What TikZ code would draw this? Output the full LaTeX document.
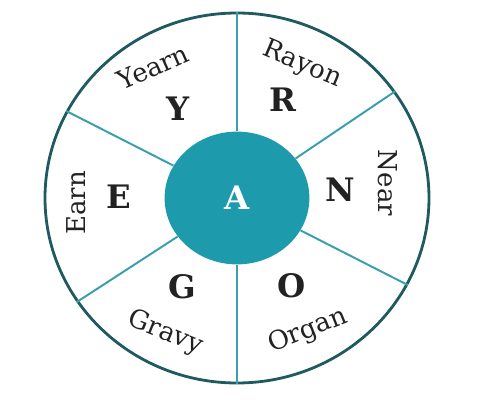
\documentclass[tikz,border=0pt]{standalone}
\usepackage{fontspec}
\setmainfont{DejaVu Serif}
\usetikzlibrary{shapes.geometric}
\usepackage{xcolor}
\definecolor{hubteal}{HTML}{1E9AAD}
\definecolor{rimteal}{HTML}{1F5A60}
\definecolor{spoketeal}{HTML}{3A9FAB}
\definecolor{inkgray}{HTML}{222222}

\begin{document}
\begin{tikzpicture}[
    word/.style={text=inkgray, inner sep=0pt, font=\fontsize{18.5}{20}\selectfont},
    letter/.style={text=inkgray, inner sep=0pt, font=\fontsize{23}{25}\selectfont\bfseries},
    spoke/.style={color=spoketeal, line width=1.4pt}
  ]
              \useasboundingbox (-5.925,-5.35) rectangle (6.3,4.95);
              \node[ellipse, draw=rimteal, line width=2pt, inner sep=0pt,
                    minimum width=9.6cm, minimum height=9.25cm] (rim) at (0,0) {};
              \node[ellipse, fill=hubteal, inner sep=0pt, text=white,
                    minimum width=3.62cm, minimum height=3.32cm,
                    font=\fontsize{23}{25}\selectfont\bfseries] (hub) at (0,0) {A};
              \foreach \a in {90,34,153,213,270,333}
                \draw[spoke] (hub.\a) -- (rim.\a);
              \node[letter] (y) at (-1.475,2.225) {Y};
              \node[letter] (r) at (1.15,2.45) {R};
              \node[letter] (e) at (-2.95,0.03) {E};
              \node[letter] (n) at (2.575,0.2) {N};
              \node[letter] (g) at (-1.375,-2.225) {G};
              \node[letter] (o) at (1.375,-2.2) {O};
              \node[word, rotate=24] (yearn) at (-2.1,3.275) {Yearn};
              \node[word, rotate=-23] (rayon) at (1.625,3.325) {Rayon};
              \node[word, rotate=90] (earn) at (-4.025,-0.125) {Earn};
              \node[word, rotate=-90] (near) at (3.775,0.375) {Near};
              \node[word, rotate=-22] (gravy) at (-1.8,-3.375) {Gravy};
              \node[word, rotate=22] (organ) at (1.775,-3.325) {Organ};
            \end{tikzpicture}
\end{document}
